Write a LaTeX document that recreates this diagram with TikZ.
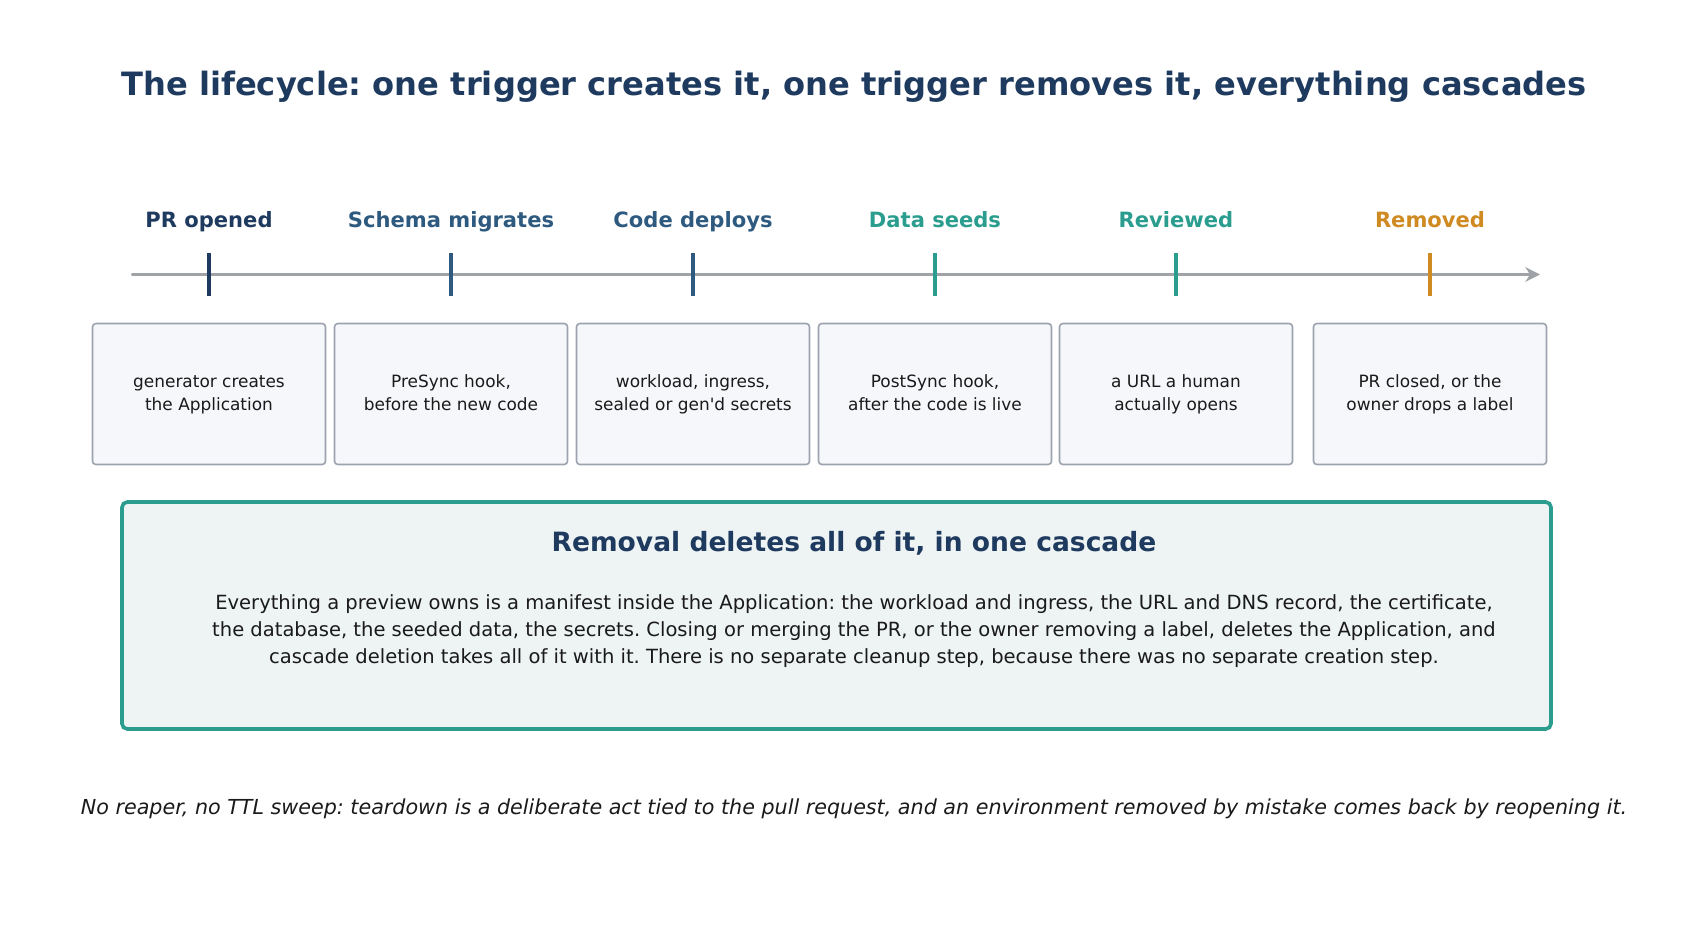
\documentclass[tikz,border=0pt]{standalone}
\usepackage{fontspec}
\setmainfont{DejaVu Sans}[Ligatures=TeXOff]
\usetikzlibrary{arrows.meta}
\frenchspacing
\definecolor{navy}{HTML}{1F3A5F}
\definecolor{steel}{HTML}{2E5A80}
\definecolor{teal}{HTML}{2A9D8F}
\definecolor{amber}{HTML}{D08A22}
\definecolor{axisgray}{HTML}{9CA3AF}
\definecolor{linegray}{HTML}{9FA3A8}
\definecolor{boxfill}{HTML}{F5F7FA}
\definecolor{bigfill}{HTML}{EEF3F4}
\definecolor{ink}{HTML}{1A1A1A}
\tikzset{
  stagelabel/.style={font=\fontsize{15.8}{19}\selectfont\bfseries, anchor=base},
  tickmark/.style={line width=3.2pt},
  stagebox/.style={draw=axisgray, fill=boxfill, line width=1.2pt, rounded corners=2.5pt,
     minimum width=233*0.75pt, minimum height=141*0.75pt, align=center, text=ink,
     font=\fontsize{12.7}{17.2}\selectfont, inner sep=0pt},
}
\begin{document}
\begin{tikzpicture}[x=0.75pt,y=-0.75pt]
\useasboundingbox (0,0) rectangle (1708,946);
\node[font=\fontsize{24.1}{29}\selectfont\bfseries, text=navy] (title) at (854,87) {The lifecycle: one trigger creates it, one trigger removes it, everything cascades};
% axis
\coordinate (axs) at (133,274.5);
\coordinate (axe) at (1540,274.5);
\draw[linegray, line width=2.9pt, line cap=round, -{Stealth[length=11pt,width=11pt,inset=3.5pt]}] (axs) -- (axe);
% stages
\foreach \n/\x/\c/\lab/\txt in {
 a/209/navy/PR opened/{\strut generator creates\\\strut the Application},
 b/451/steel/Schema migrates/{\strut PreSync hook,\\\strut before the new code},
 c/693/steel/Code deploys/{\strut workload, ingress,\\\strut sealed or gen'd secrets},
 d/935/teal/Data seeds/{\strut PostSync hook,\\\strut after the code is live},
 e/1176/teal/Reviewed/{\strut a URL a human\\\strut actually opens},
 f/1430/amber/Removed/{\strut PR closed, or the\\\strut owner drops a label}}{
  \node[stagelabel, text=\c] (l\n) at (\x,227) {\lab};
  \coordinate (t\n top) at (\x,253);
  \coordinate (t\n bot) at (\x,296);
  \draw[tickmark, \c] (t\n top) -- (t\n bot);
  \node[stagebox] (b\n) at (\x,394) {\txt};
}
% big box
\node[draw=teal, fill=bigfill, line width=2.7pt, rounded corners=4pt,
  minimum width=1429*0.75pt, minimum height=227*0.75pt, inner sep=0pt] (big) at (836.5,615.5) {};
\node[font=\fontsize{19.9}{24}\selectfont\bfseries, text=navy] (bighead) at (854,543) {Removal deletes all of it, in one cascade};
\node[font=\fontsize{14.65}{20.3}\selectfont, text=ink, align=center] (bigbody) at (854,631) {Everything a preview owns is a manifest inside the Application: the workload and ingress, the URL and DNS record, the certificate,\\the database, the seeded data, the secrets. Closing or merging the PR, or the owner removing a label, deletes the Application, and\\cascade deletion takes all of it with it. There is no separate cleanup step, because there was no separate creation step.};
\node[font=\fontsize{15.5}{18}\selectfont\itshape, text=ink] (footer) at (854,809) {No reaper, no TTL sweep: teardown is a deliberate act tied to the pull request, and an environment removed by mistake comes back by reopening it.};
\end{tikzpicture}
\end{document}
